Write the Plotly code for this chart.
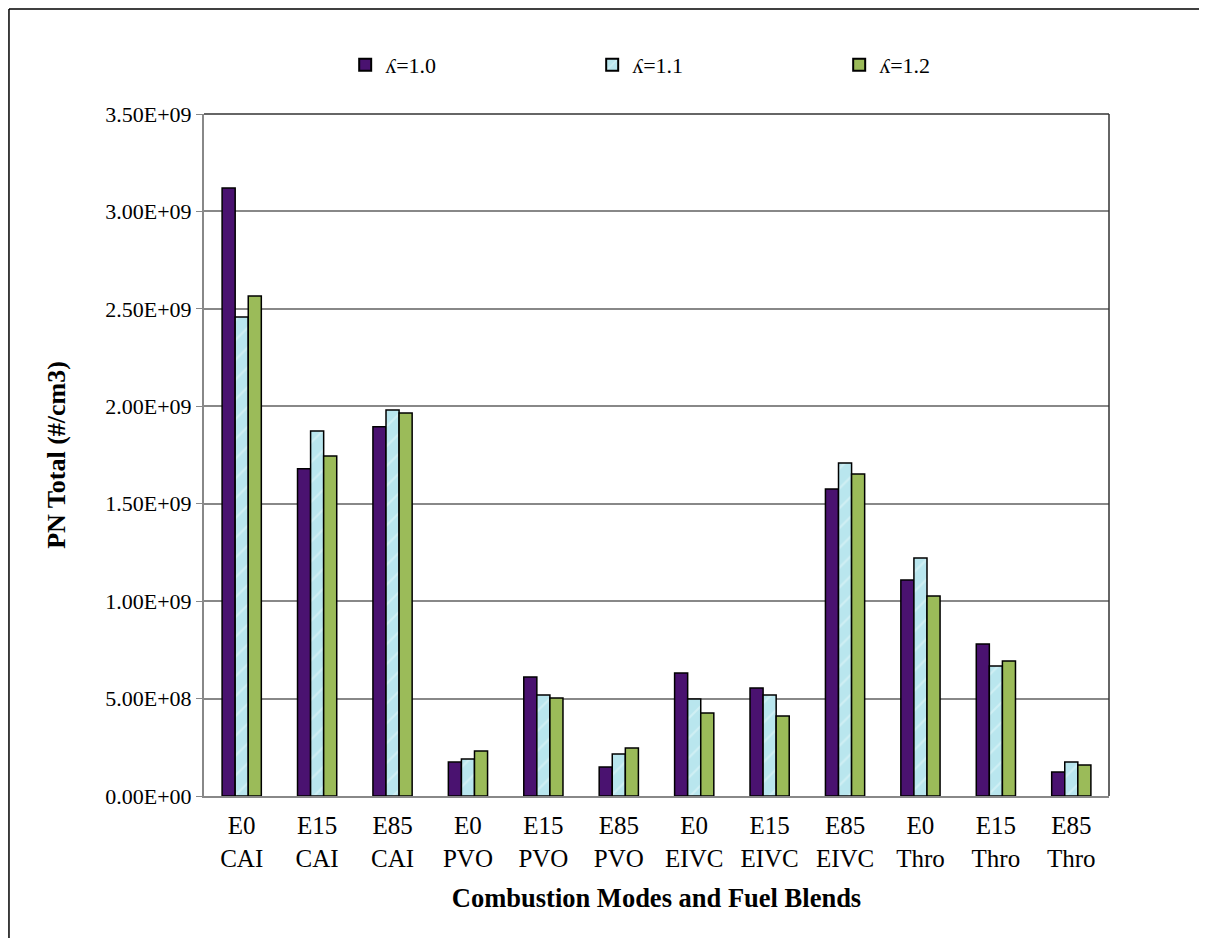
import plotly.graph_objects as go

categories = ["E0<br>CAI", "E15<br>CAI", "E85<br>CAI", "E0<br>PVO", "E15<br>PVO", "E85<br>PVO",
              "E0<br>EIVC", "E15<br>EIVC", "E85<br>EIVC", "E0<br>Thro", "E15<br>Thro", "E85<br>Thro"]
lambda_10 = [3.12e9, 1.68e9, 1.895e9, 0.174e9, 0.611e9, 0.149e9, 0.631e9, 0.554e9, 1.576e9, 1.108e9, 0.78e9, 0.123e9]
lambda_11 = [2.458e9, 1.873e9, 1.981e9, 0.19e9, 0.518e9, 0.216e9, 0.498e9, 0.518e9, 1.709e9, 1.221e9, 0.667e9, 0.174e9]
lambda_12 = [2.566e9, 1.745e9, 1.966e9, 0.231e9, 0.503e9, 0.246e9, 0.426e9, 0.41e9, 1.652e9, 1.026e9, 0.693e9, 0.159e9]
series_names = ["ʎ=1.0", "ʎ=1.1", "ʎ=1.2"]
y_ticks = [0, 0.5e9, 1.0e9, 1.5e9, 2.0e9, 2.5e9, 3.0e9, 3.5e9]
y_tick_labels = ["0.00E+00", "5.00E+08", "1.00E+09", "1.50E+09", "2.00E+09", "2.50E+09", "3.00E+09", "3.50E+09"]

font_family = "Liberation Serif, Times New Roman, serif"

fig = go.Figure()
fig.add_trace(go.Bar(x=categories, y=lambda_10, name=series_names[0],
                     marker=dict(color="#4a1270", line=dict(color="black", width=1.5))))
fig.add_trace(go.Bar(x=categories, y=lambda_11, name=series_names[1],
                     marker=dict(color="#b9e6ee", line=dict(color="black", width=1.5),
                                 pattern=dict(shape="/", fgcolor="#e6f7fa", size=14, solidity=0.15))))
fig.add_trace(go.Bar(x=categories, y=lambda_12, name=series_names[2],
                     marker=dict(color="#9bbb59", line=dict(color="black", width=1.5))))

# outer chart frame (top and left edges)
fig.add_shape(type="line", xref="paper", yref="paper", x0=-0.2155, x1=1.2, y0=1.154, y1=1.154,
              line=dict(color="black", width=1.5))
fig.add_shape(type="line", xref="paper", yref="paper", x0=-0.2155, x1=-0.2155, y0=1.154, y1=-0.3,
              line=dict(color="black", width=1.5))
# plot box top and right edges
fig.add_shape(type="line", xref="paper", yref="paper", x0=0, x1=1, y0=1, y1=1,
              line=dict(color="#333333", width=1.5))
fig.add_shape(type="line", xref="paper", yref="paper", x0=1, x1=1, y0=0, y1=1,
              line=dict(color="#333333", width=1.5))

fig.update_layout(
    width=1207, height=938,
    margin=dict(l=196, r=106, t=106, b=150),
    paper_bgcolor="white", plot_bgcolor="white",
    barmode="group", bargap=0.48, bargroupgap=0,
    font=dict(family=font_family, size=22, color="black"),
    legend=dict(orientation="h", x=0.156, xanchor="left", y=1.072, yanchor="middle",
                entrywidth=202, font=dict(size=22), itemsizing="constant"),
    xaxis=dict(title=dict(text="<b>Combustion Modes and Fuel Blends</b>", font=dict(size=26.5), standoff=18),
               showline=True, linecolor="#888888", linewidth=2, ticks="", tickfont=dict(size=25),
               ticklabelstandoff=6, showgrid=False),
    yaxis=dict(title=dict(text="<b>PN Total (#/cm3)</b>", font=dict(size=26), standoff=32),
               range=[0, 3.5e9], tickvals=y_ticks, ticktext=y_tick_labels,
               showline=True, linecolor="#888888", linewidth=2, ticks="outside", ticklen=6,
               tickcolor="#888888", showgrid=True, gridcolor="#888888", gridwidth=1.5,
               tickfont=dict(size=22), zeroline=False),
)

fig.write_html("out.html")
